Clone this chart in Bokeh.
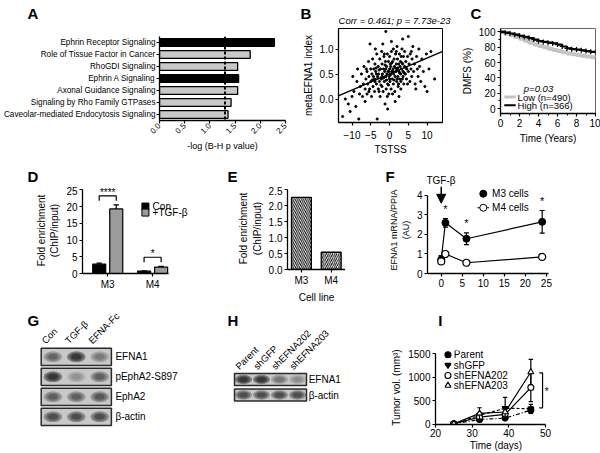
import math
from bokeh.plotting import figure
from bokeh.layouts import row, column
from bokeh.models import (Range1d, FactorRange, Span, Slope, Arrow, NormalHead,
                          FixedTicker, SingleIntervalTicker, NumeralTickFormatter, ColumnDataSource)
from bokeh.core.properties import value
from bokeh.embed import file_html
from bokeh.resources import INLINE

# ====================== DATA ======================
# Panel A
a_pathways = ["Ephrin Receptor Signaling", "Role of Tissue Factor in Cancer", "RhoGDI Signaling",
              "Ephrin A Signaling", "Axonal Guidance Signaling", "Signaling by Rho Family GTPases",
              "Caveolar-mediated Endocytosis Signaling"]
a_neglog_p = [2.28, 1.80, 1.55, 1.57, 1.55, 1.42, 1.36]
a_is_ephrin = [True, False, False, True, False, False, False]
a_cutoff = 1.3
a_ticks = [0.0, 0.5, 1.0, 1.5, 2.0, 2.5]

# Panel B
b_tstss = [-12.5, -11.8, -11.0, -10.5, -10.0, -9.8, -9.5, -9.0, -8.7, -8.5,
           -8.2, -8.0, -7.8, -7.5, -7.2, -7.0, -6.8, -6.5, -6.5, -6.3,
           -6.0, -6.0, -5.8, -5.6, -5.5, -5.3, -5.2, -5.0, -5.0, -4.8,
           -4.7, -4.5, -4.4, -4.2, -4.0, -4.0, -3.9, -3.8, -3.7, -3.5,
           -3.4, -3.3, -3.2, -3.0, -3.0, -2.9, -2.7, -2.6, -2.5, -2.4,
           -2.2, -2.1, -2.0, -2.0, -1.9, -1.8, -1.7, -1.6, -1.5, -1.4,
           -1.3, -1.2, -1.1, -1.0, -1.0, -0.9, -0.8, -0.7, -0.6, -0.5,
           -0.5, -0.4, -0.3, -0.2, -0.1, 0.0, 0.0, 0.1, 0.2, 0.3,
           0.4, 0.5, 0.5, 0.6, 0.7, 0.8, 0.9, 1.0, 1.0, 1.1,
           1.2, 1.3, 1.4, 1.5, 1.5, 1.6, 1.7, 1.8, 1.9, 2.0,
           2.0, 2.1, 2.2, 2.3, 2.4, 2.5, 2.5, 2.6, 2.7, 2.8,
           2.9, 3.0, 3.0, 3.1, 3.2, 3.3, 3.4, 3.5, 3.5, 3.6,
           3.7, 3.8, 4.0, 4.0, 4.2, 4.3, 4.5, 4.6, 4.8, 5.0,
           5.0, 5.2, 5.4, 5.5, 5.7, 5.9, 6.0, 6.2, 6.4, 6.6,
           6.8, 7.0, 7.2, 7.4, 7.6, 7.8, 8.0, 8.3, 8.6, 9.0,
           9.4, 9.8, 10.0, 10.5, 11.0, 12.0,
           -4.6, -3.6, -3.1, -2.8, -2.3, -1.6, -1.2, -0.8, -0.3, 0.2,
           0.6, 1.2, 1.6, 2.2, 2.7, 3.3, 3.9, 4.4, -2.0, -1.0,
           0.0, 1.0, 2.0, 3.0, -3.5, -4.3, -5.5, -0.6, 0.8, 4.8,
           5.8, -2.8, 1.8, -1.4, 0.3, -0.2, 2.4, 3.6, -3.9, -6.2]
b_index = [-0.35, 0.0, -0.1, -0.25, 0.05, 0.45, 0.15, -0.15, 0.35, 0.6,
           -0.4, 0.1, 0.25, 0.5, 0.05, 0.3, 0.65, 0.2, -0.05, 0.4,
           0.55, 0.1, 0.3, 0.75, 0.45, 0.2, 1.1, 0.6, 0.35, 0.05,
           0.5, 0.8, 0.25, 0.6, 0.4, 0.15, 0.7, 1.0, 0.55, 0.3,
           0.9, -0.4, 0.45, 0.65, 0.2, 0.5, 0.35, 0.8, 0.05, 0.6,
           0.4, 0.95, 0.25, 0.7, 0.5, 1.1, 0.15, 0.6, 0.85, 0.35,
           0.55, -0.1, 0.75, 1.35, 0.45, 0.2, 0.65, 0.5, 0.9, 0.3,
           -0.2, 0.55, 0.75, 0.1, 0.45, 0.6, 0.85, 0.35, 0.7, 0.5,
           0.2, 0.95, 1.15, 0.55, 0.4, 0.75, 0.6, 0.3, 1.0, 0.5,
           0.8, 0.65, 0.15, 0.45, -0.05, 0.9, 0.55, 0.7, 0.35, 0.6,
           1.05, 0.8, 0.45, 0.25, 0.7, 0.55, 0.05, 0.9, 0.4, 0.65,
           0.75, 0.5, 0.2, 0.85, 0.6, 1.0, 0.4, 0.7, 1.2, 0.55,
           0.85, 0.3, 0.65, 0.95, 0.5, 0.75, 0.4, 0.6, 0.85, 1.25,
           0.55, 0.7, 0.35, 0.9, 0.6, 0.45, 0.8, 1.05, 0.55, 0.7,
           0.3, 0.2, 0.85, 0.6, 0.45, 1.0, 0.65, 0.35, 0.8, 0.55,
           0.25, 0.9, 0.15, 0.6, 0.95, 0.4,
           0.38, 0.62, 0.42, 0.58, 0.28, 0.42, 0.68, 0.38, 0.28, 0.48,
           0.72, 0.38, 0.62, 0.62, 0.52, 0.72, 0.52, 0.62, 0.45, 0.6,
           0.4, 0.55, 0.4, 0.35, 0.5, 0.45, 0.15, 0.05, 0.1, 0.3,
           0.95, 0.15, 0.95, 0.9, 0.65, 0.55, 0.3, 0.45, 0.35, 0.6]
b_fit_slope = 0.032
b_fit_intercept = 0.50
b_title = "Corr = 0.461; p = 7.73e-23"
b_xticks = [-10, -5, 0, 5, 10]
b_yticks = [0.0, 0.5, 1.0]

# Panel C
c_years = [0, 0.5, 1, 1.5, 2, 2.5, 3, 3.5, 4, 4.5, 5, 5.5, 6, 6.5, 7, 7.5, 8, 8.5, 9, 9.5, 10]
c_high = [100, 99, 98, 96.5, 95, 93.5, 92, 90, 88, 87, 86, 85, 83.5, 81, 78.5, 77.5, 77, 76, 75, 74, 73.5]
c_low = [100, 98, 96, 93.5, 91, 88.5, 86, 83.5, 81.5, 80, 78, 76.5, 75, 73.5, 72, 71, 70, 69, 68, 67, 66.5]
c_low_label = "Low  (n=490)"
c_high_label = "High (n=366)"
c_pvalue = "p=0.03"

# Panel D
d_cells = ["M3", "M4"]
d_con = [2.8, 0.7]
d_con_err = [0.3, 0.1]
d_tgf = [19.3, 1.9]
d_tgf_err = [1.2, 0.25]
d_sig = ["****", "*"]
d_yticks = [0, 5, 10, 15, 20, 25]

# Panel E
e_cells = ["M3", "M4"]
e_enrich = [2.26, 0.54]
e_yticks = [0.0, 0.5, 1.0, 1.5, 2.0, 2.5]

# Panel F
f_hours = [0, 1, 6, 24]
f_m3 = [0.72, 2.6, 1.78, 2.65]
f_m3_err = [0.2, 0.22, 0.3, 0.58]
f_m4 = [0.62, 1.0, 0.55, 0.85]
f_m4_err = [0.1, 0.05, 0.05, 0.1]
f_sig_hours = [1, 6, 24]
f_xticks = [0, 5, 10, 15, 20, 25]
f_yticks = [0, 1, 2, 3, 4]

# Panel G (western blot band intensities, 0-1)
g_lanes = ["Con", "TGF-β", "EFNA-Fc"]
g_rows = ["EFNA1", "pEphA2-S897", "EphA2", "β-actin"]
g_efna1 = [0.55, 1.0, 0.4]
g_pepha2 = [1.0, 0.25, 0.6]
g_epha2 = [0.6, 0.6, 0.65]
g_actin = [0.75, 0.75, 0.75]

# Panel H
h_lanes = ["Parent", "shGFP", "shEFNA202", "shEFNA203"]
h_rows = ["EFNA1", "β-actin"]
h_efna1 = [1.0, 1.0, 0.45, 0.3]
h_actin = [0.75, 0.75, 0.75, 0.75]

# Panel I
i_days = [25, 32, 39, 46]
i_names = ["Parent", "shGFP", "shEFNA202", "shEFNA203"]
i_parent = [10, 100, 130, 300]
i_parent_err = [5, 30, 40, 70]
i_shgfp = [10, 190, 340, 330]
i_shgfp_err = [5, 50, 230, 90]
i_sh202 = [10, 150, 210, 780]
i_sh202_err = [5, 60, 70, 300]
i_sh203 = [10, 230, 260, 1110]
i_sh203_err = [5, 120, 90, 270]
i_xticks = [20, 30, 40, 50]
i_yticks = [0, 500, 1000, 1500]

# ====================== HELPERS ======================
FONT = "Liberation Sans"


def make_fig(box, frame, x_range, y_range, **kw):
    x0, y0, x1, y1 = box
    fx0, fy0, fx1, fy1 = frame
    p = figure(width=round(x1) - round(x0), height=round(y1) - round(y0),
               x_range=x_range, y_range=y_range,
               output_backend="svg", toolbar_location=None, title=None,
               min_border_left=round(fx0) - round(x0), min_border_right=round(x1) - round(fx1),
               min_border_top=round(fy0) - round(y0), min_border_bottom=round(y1) - round(fy1), **kw)
    p.grid.visible = False
    p.outline_line_color = None
    return p


def bare_fig(box, x_range, y_range):
    x0, y0, x1, y1 = box
    p = figure(width=round(x1) - round(x0), height=round(y1) - round(y0),
               x_range=x_range, y_range=y_range,
               x_axis_location=None, y_axis_location=None, output_backend="svg",
               toolbar_location=None, title=None, min_border_left=0, min_border_right=0,
               min_border_top=0, min_border_bottom=0)
    p.grid.visible = False
    p.outline_line_color = None
    return p


def style_axes(p, size=10):
    for ax in p.axis:
        ax.axis_line_width = 1.3
        ax.axis_line_color = "black"
        ax.major_tick_line_color = "black"
        ax.major_tick_line_width = 1.2
        ax.major_tick_in = 0
        ax.major_tick_out = 3
        ax.minor_tick_line_color = None
        ax.major_label_text_font = FONT
        ax.major_label_text_font_size = f"{size}px"
        ax.major_label_text_color = "black"
        ax.axis_label_text_font = FONT
        ax.axis_label_text_font_size = f"{size}px"
        ax.axis_label_text_font_style = "normal"
        ax.axis_label_text_color = "black"
        ax.major_label_standoff = 2
        ax.axis_label_standoff = 3


def txt(p, xs, ys, texts, size=10, align="left", baseline="middle", style="normal", angle=0.0):
    p.text(x=xs, y=ys, text=texts, text_font=value(FONT), text_font_size=value(f"{size}px"),
           text_font_style=style, text_align=align, text_baseline=baseline, angle=angle,
           text_color="black")


def errbars(p, xs, ys, errs, cap, both=True, lw=1.2):
    lo = [y - e if both else y for y, e in zip(ys, errs)]
    hi = [y + e for y, e in zip(ys, errs)]
    p.segment(x0=xs, y0=lo, x1=xs, y1=hi, line_color="black", line_width=lw)
    p.segment(x0=[x - cap for x in xs], y0=hi, x1=[x + cap for x in xs], y1=hi, line_color="black", line_width=lw)
    if both:
        p.segment(x0=[x - cap for x in xs], y0=lo, x1=[x + cap for x in xs], y1=lo, line_color="black", line_width=lw)


def strip(box, letters, extra=None):
    # a text-only band (pixel coordinates of the page, y pointing down as -y)
    x0, y0, x1, y1 = box
    p = bare_fig(box, Range1d(x0, x1), Range1d(-y1, -y0))
    txt(p, [l[1] for l in letters], [-l[2] for l in letters], [l[0] for l in letters],
        size=15, baseline="top", style="bold")
    if extra:
        for t, x, y, size, style in extra:
            txt(p, [x], [-y], [t], size=size, align="center", style=style)
    return p


# ====================== STRIPS (panel letters etc.) ======================
strip1 = strip((0, 0, 600, 26), [("A", 27, 4), ("B", 300, 4), ("C", 470, 4)],
               [(b_title, 394, 19.5, 9.5, "italic")])
strip2 = strip((0, 162, 600, 186), [("D", 27, 167), ("E", 227, 167), ("F", 385, 167)],
               [("TGF-β", 440.5, 179.5, 10, "normal")])
stripI = strip((385, 305, 600, 330), [("I", 390, 311)])

# ====================== PANEL A ======================
boxA = (0, 26, 292, 162)
frameA = (158, 36, 285, 120)
pA = make_fig(boxA, frameA, Range1d(0, 2.5), FactorRange(factors=list(reversed(a_pathways))))
srcA = ColumnDataSource(dict(path=a_pathways, val=a_neglog_p,
                             color=["black" if e else "#c8c8c8" for e in a_is_ephrin]))
pA.hbar(y="path", right="val", left=0, height=0.64, fill_color="color", line_color="black",
        line_width=1.3, source=srcA)
pA.add_layout(Span(location=a_cutoff, dimension="height", line_color="black", line_width=2,
                   line_dash="3 2"))
style_axes(pA, 9)
pA.yaxis.major_label_text_font_size = "8.2px"
pA.yaxis.major_label_standoff = 1
pA.xaxis.ticker = FixedTicker(ticks=a_ticks)
pA.xaxis.formatter = NumeralTickFormatter(format="0.0")
pA.xaxis.major_label_orientation = math.pi / 4
pA.xaxis.major_label_text_font_size = "8px"
pA.xaxis.major_label_standoff = 1
pA.xaxis.axis_label_standoff = 2
pA.xaxis.axis_label = "-log (B-H p value)"

# ====================== PANEL B ======================
boxB = (292, 26, 458, 162)
frameB = (338, 28, 442, 122)
pB = make_fig(boxB, frameB, Range1d(-13.6, 14.1), Range1d(-0.47, 1.41))
pB.outline_line_color = "black"
pB.outline_line_width = 1
pB.scatter(x=b_tstss, y=b_index, size=2.2, color="black", marker="circle")
pB.add_layout(Slope(gradient=b_fit_slope, y_intercept=b_fit_intercept, line_color="black",
                    line_width=1.2))
style_axes(pB, 10)
pB.xaxis.ticker = FixedTicker(ticks=b_xticks)
pB.yaxis.ticker = FixedTicker(ticks=b_yticks)
pB.yaxis.formatter = NumeralTickFormatter(format="0.0")
pB.xaxis.axis_label = "TSTSS"
pB.yaxis.axis_label = "metaEFNA1 index"
pB.xaxis.major_label_standoff = 5
pB.xaxis.axis_label_standoff = 2

# ====================== PANEL C ======================
boxC = (458, 26, 600, 162)
frameC = (497, 28.3, 595, 113)
pC = make_fig(boxC, frameC, Range1d(0, 10), Range1d(-6.5, 104.5))
pC.outline_line_color = "#666666"
pC.step(x=c_years, y=c_low, mode="after", line_color="#c4c4c4", line_width=4)
pC.step(x=c_years, y=c_high, mode="after", line_color="black", line_width=2.2)
pC.scatter(x=c_years, y=c_high, marker="cross", size=5, line_color="black", line_width=1.2)
pC.line([0.4, 1.6], [15, 15], line_color="#c4c4c4", line_width=3)
pC.line([0.4, 1.6], [4.3, 4.3], line_color="black", line_width=2)
txt(pC, [1.8], [15], [c_low_label], size=9.5)
txt(pC, [1.8], [4.3], [c_high_label], size=9.5)
txt(pC, [4.0], [26.5], [c_pvalue], size=9.5, align="center", style="italic")
style_axes(pC, 10)
pC.xaxis.ticker = SingleIntervalTicker(interval=2, num_minor_ticks=2)
pC.yaxis.ticker = SingleIntervalTicker(interval=20, num_minor_ticks=2)
for ax in pC.axis:
    ax.minor_tick_line_color = "black"
    ax.minor_tick_in = 0
    ax.minor_tick_out = 2
pC.xaxis.axis_label = "Time (Years)"
pC.yaxis.axis_label = "DMFS (%)"

# ====================== PANEL D ======================
boxD = (0, 186, 190, 305)
frameD = (81.7, 187, 188, 272.7)
d_x = [1, 2]
pD = make_fig(boxD, frameD, Range1d(0.438, 2.8), Range1d(0, 25.69))
off, bw = 0.19, 0.29
con_x = [x - off for x in d_x]
tgf_x = [x + off for x in d_x]
pD.vbar(x=con_x, top=d_con, width=bw, fill_color="black", line_color="black", line_width=1.2)
pD.vbar(x=tgf_x, top=d_tgf, width=bw, fill_color="#9b9b9b", line_color="black", line_width=1.2)
errbars(pD, con_x, d_con, d_con_err, 0.06, both=False)
errbars(pD, tgf_x, d_tgf, d_tgf_err, 0.06, both=False)
for i in range(len(d_x)):
    top = max(d_con[i] + d_con_err[i], d_tgf[i] + d_tgf_err[i]) + 2.7
    xl, xr = con_x[i], tgf_x[i]
    pD.line([xl, xl, xr, xr], [top - 1.5, top, top, top - 1.5], line_color="black", line_width=1.2)
    txt(pD, [(xl + xr) / 2], [top + 1.1], [d_sig[i]], size=10, align="center")
pD.scatter(x=[1.84, 1.84], y=[20, 18.2], marker="square", size=7, fill_color=["black", "#9b9b9b"],
           line_color="black")
txt(pD, [2.0, 2.0], [20, 18.2], ["Con", "+TGF-β"], size=10)
style_axes(pD, 10)
pD.yaxis.ticker = FixedTicker(ticks=d_yticks)
pD.yaxis.bounds = (0, 25)
pD.xaxis.ticker = FixedTicker(ticks=d_x)
pD.xaxis.major_label_overrides = {1: d_cells[0], 2: d_cells[1]}
pD.xaxis.bounds = (0.438, 2.36)
pD.yaxis.axis_label = "Fold enrichment\n(ChIP/input)"

# ====================== PANEL E ======================
boxE = (190, 186, 345, 305)
frameE = (286.7, 187, 345, 272.7)
pE = make_fig(boxE, frameE, Range1d(0.533, 2.48), Range1d(0, 2.569))
srcE = ColumnDataSource(dict(x=[1, 2], top=e_enrich,
                             hatch=["left_diagonal_line", "right_diagonal_line"]))
pE.vbar(x="x", top="top", width=0.667, source=srcE, fill_color="white", line_color="black",
        line_width=1.3, hatch_pattern="hatch", hatch_color="black", hatch_scale=4.2, hatch_weight=1)
style_axes(pE, 10)
pE.yaxis.ticker = FixedTicker(ticks=e_yticks)
pE.yaxis.formatter = NumeralTickFormatter(format="0.0")
pE.yaxis.bounds = (0, 2.5)
pE.xaxis.ticker = FixedTicker(ticks=[1, 2])
pE.xaxis.major_label_overrides = {1: e_cells[0], 2: e_cells[1]}
pE.xaxis.axis_label = "Cell line"
pE.yaxis.axis_label = "Fold enrichment\n(ChIP/input)"

# ====================== PANEL F ======================
boxF = (345, 186, 600, 305)
frameF = (427.3, 186, 548, 273.3)
pF = make_fig(boxF, frameF, Range1d(-3.26, 25.5), Range1d(0, 4.46))
pF.line(f_hours, f_m3, line_color="black", line_width=1.2)
pF.line(f_hours, f_m4, line_color="black", line_width=1.2)
errbars(pF, f_hours, f_m3, f_m3_err, 0.6)
errbars(pF, f_hours, f_m4, f_m4_err, 0.6)
pF.scatter(f_hours, f_m3, marker="circle", size=7, fill_color="black", line_color="black")
pF.scatter(f_hours, f_m4, marker="circle", size=7, fill_color="white", line_color="black", line_width=1.2)
sig_y = [f_m3[f_hours.index(h)] + f_m3_err[f_hours.index(h)] + 0.2 for h in f_sig_hours]
txt(pF, f_sig_hours, sig_y, ["*"] * len(f_sig_hours), size=11, align="center", baseline="bottom")
pF.add_layout(Arrow(end=NormalHead(size=9, fill_color="black", line_color="black"),
                    x_start=0, y_start=4.46, x_end=0, y_end=3.6, line_color="black", line_width=1.5))
pF.line([8.6, 11.4], [3.37, 3.37], line_color="black", line_width=1.2)
pF.scatter([10, 10], [4.09, 3.37], marker="circle", size=7, fill_color=["black", "white"],
           line_color="black")
txt(pF, [12.1, 12.1], [4.09, 3.37], ["M3 cells", "M4 cells"], size=10)
style_axes(pF, 10)
pF.yaxis.axis_label_text_font_size = "9px"
pF.xaxis.ticker = FixedTicker(ticks=f_xticks)
pF.yaxis.ticker = FixedTicker(ticks=f_yticks)
pF.yaxis.bounds = (0, 4)
pF.yaxis.axis_label = "EFNA1 mRNA/PPIA\n(AU)"


# ====================== BLOTS (G, H) ======================
def blot_panel(box, lanes, rows, bands, lane0_x, lane_dx, row0_y, row_dy, box_h, band_w, band_h,
               lab_dx, lane_lab_dx, lane_lab_y, ch, lpos):
    x0, y0, x1, y1 = box
    xr = Range1d((x0 - lane0_x) / lane_dx, (x1 - lane0_x) / lane_dx)
    yr = Range1d(-(y1 - row0_y) / row_dy, -(y0 - row0_y) / row_dy)
    p = bare_fig(box, xr, yr)
    n = len(lanes)
    rows_y = [-r for r in range(len(rows))]
    p.rect(x=[(n - 1) / 2] * len(rows), y=rows_y, width=n, height=box_h,
           fill_color="#c8c8c8", line_color="#2a2a2a", line_width=1.5)
    bx, by, bww, bhh, ba = [], [], [], [], []
    for r, vals in enumerate(bands):
        for l, v in enumerate(vals):
            for k in (1.0, 0.75, 0.5):
                bx.append(l)
                by.append(-r)
                bww.append(band_w * k)
                bhh.append(band_h * k)
                ba.append(0.42 * v)
    p.ellipse(x=bx, y=by, width=bww, height=bhh, fill_color="#141414", fill_alpha=ba, line_color=None)
    txt(p, [n - 0.5 + lab_dx] * len(rows), rows_y, rows, size=10)
    txt(p, [l + lane_lab_dx for l in range(n)], [lane_lab_y] * n, lanes, size=9.5,
        baseline="bottom", angle=math.pi / 4)
    txt(p, [(lpos[0] - lane0_x) / lane_dx], [-(lpos[1] - row0_y) / row_dy], [ch], size=15,
        baseline="top", style="bold")
    return p


pG = blot_panel((0, 305, 200, 453), g_lanes, g_rows, [g_efna1, g_pepha2, g_epha2, g_actin],
                52.4, 23.4, 356.3, 20.0, 0.865, 0.8, 0.55, 0.17, -0.25, 0.55, "G", (27, 311))
pH = blot_panel((200, 305, 385, 453), h_lanes, h_rows, [h_efna1, h_actin],
                243.0, 18.0, 379.0, 15.5, 0.78, 0.95, 0.6, 0.12, -0.15, 0.5, "H", (227, 311))

# ====================== PANEL I ======================
boxI = (385, 330, 600, 453)
frameI = (435, 350, 556, 426)
pI = make_fig(boxI, frameI, Range1d(20, 53), Range1d(-6, 1568))
i_vals = [i_parent, i_shgfp, i_sh202, i_sh203]
i_errs = [i_parent_err, i_shgfp_err, i_sh202_err, i_sh203_err]
i_markers = ["circle", "inverted_triangle", "circle", "triangle"]
i_fills = ["black", "black", "white", "white"]
i_dashes = ["4 2 1 2", "3 2", "solid", "solid"]
for vals, errs, mk, fc, dash in zip(i_vals, i_errs, i_markers, i_fills, i_dashes):
    pI.line(i_days, vals, line_color="black", line_width=1.2, line_dash=dash)
    errbars(pI, i_days, vals, errs, 0.6)
    pI.scatter(i_days, vals, marker=mk, size=6, fill_color=fc, line_color="black", line_width=1.1)
leg_y = [1479, 1257, 1036, 822]
for yy, mk, fc, dash, nm in zip(leg_y, i_markers, i_fills, i_dashes, i_names):
    pI.line([22.6, 24.2], [yy, yy], line_color="black", line_width=1.2)
    pI.scatter([23.4], [yy], marker=mk, size=6, fill_color=fc, line_color="black", line_width=1.1)
    txt(pI, [25.0], [yy], [nm], size=10)
pI.line([48.3, 49.2, 49.2, 48.3], [1092, 1092, 346, 346], line_color="black", line_width=1.2)
txt(pI, [50.3], [700], ["*"], size=10, align="center")
style_axes(pI, 10)
pI.xaxis.ticker = FixedTicker(ticks=i_xticks)
pI.yaxis.ticker = FixedTicker(ticks=i_yticks)
pI.xaxis.bounds = (20, 50)
pI.yaxis.bounds = (0, 1500)
pI.xaxis.major_label_standoff = 1
pI.xaxis.axis_label_standoff = 0
pI.xaxis.axis_label = "Time (days)"
pI.yaxis.axis_label = "Tumor vol. (mm³)"

# each figure sits in its own column so that Bokeh does not align the frames of a row
layout = column(strip1,
                row(column(pA), column(pB), column(pC)),
                strip2,
                row(column(pD), column(pE), column(pF)),
                row(column(pG), column(pH), column(stripI, pI)))
open("out.html", "w").write(file_html(layout, INLINE, "Figure"))
